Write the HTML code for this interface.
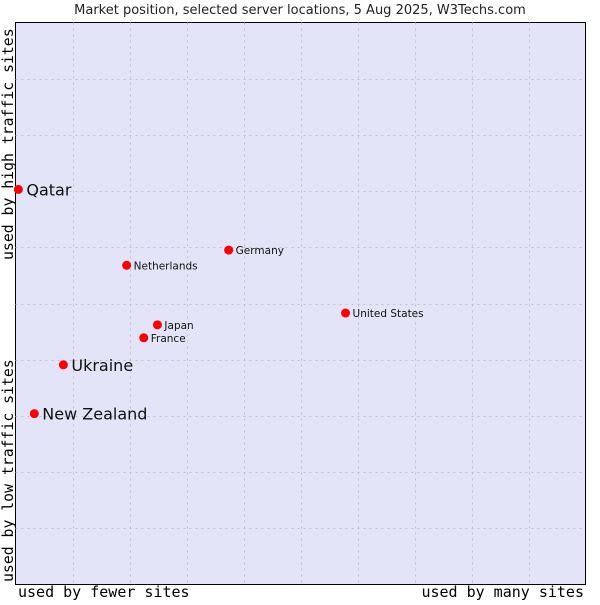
<!DOCTYPE html>
<html><head><meta charset="utf-8"><style>
body{margin:0;background:#fff;width:600px;height:600px;overflow:hidden}
svg text{font-family:"DejaVu Sans","Liberation Sans",sans-serif}
</style></head><body>
<svg id="chart" width="600" height="600">
<text x="300" y="14" text-anchor="middle" font-size="13" fill="#222">Market position, selected server locations, 5 Aug 2025, W3Techs.com</text>
<rect x="15.5" y="22.5" width="570" height="562" fill="#e4e4f8" stroke="#000"/>
<g id="grid"></g>
<g id="pts"></g>
<text x="18" y="597" font-size="15" style="font-family:'DejaVu Sans Mono','Liberation Mono',monospace">used by fewer sites</text>
<text x="584" y="597" text-anchor="end" font-size="15" style="font-family:'DejaVu Sans Mono','Liberation Mono',monospace">used by many sites</text>
<text transform="translate(13,582) rotate(-90)" font-size="14.8" style="font-family:'DejaVu Sans Mono','Liberation Mono',monospace">used by low traffic sites</text>
<text transform="translate(13,260) rotate(-90)" font-size="14.8" style="font-family:'DejaVu Sans Mono','Liberation Mono',monospace">used by high traffic sites</text>
</svg>
<script>
const names=["Qatar","Netherlands","Germany","United States","Japan","France","Ukraine","New Zealand"];
const xVals=[0.5,19.5,37.4,57.9,24.9,22.5,8.4,3.3];
const yVals=[70.3,56.8,59.5,48.3,46.2,43.9,39.1,30.4];
const big=[true,false,false,false,false,false,true,true];
const X0=15.5,X1=585.5,Y0=584.5,Y1=22.5;
const sx=v=>X0+v/100*(X1-X0), sy=v=>Y0-v/100*(Y0-Y1);
const NS="http://www.w3.org/2000/svg";
const g=document.getElementById('grid');
for(let i=1;i<10;i++){
 const a=document.createElementNS(NS,'line');
 const xx=Math.round(sx(i*10))+0.5;
 a.setAttribute('x1',xx);a.setAttribute('x2',xx);a.setAttribute('y1',Y1);a.setAttribute('y2',Y0);
 a.setAttribute('stroke','#c0c0c8');a.setAttribute('stroke-dasharray','2,4');
 
 
 g.appendChild(a);
 const b=document.createElementNS(NS,'line');
 const yy=Math.round(sy(i*10))+0.5;
 b.setAttribute('x1',X0);b.setAttribute('x2',X1);b.setAttribute('y1',yy);b.setAttribute('y2',yy);
 b.setAttribute('stroke','#c0c0c8');b.setAttribute('stroke-dasharray','2,4');
 
 
 g.appendChild(b);
}
const p=document.getElementById('pts');
names.forEach((n,i)=>{
 const cx=sx(xVals[i]),cy=sy(yVals[i]);
 const c=document.createElementNS(NS,'circle');
 c.setAttribute('cx',cx);c.setAttribute('cy',cy);c.setAttribute('r',4.5);c.setAttribute('fill','#f00');
 
 
 p.appendChild(c);
 const t=document.createElementNS(NS,'text');
 t.setAttribute('x',cx+(big[i]?8:7));t.setAttribute('y',cy+(big[i]?6:4));
 t.setAttribute('font-size',big[i]?16:10.5);t.setAttribute('fill','#111');
 t.textContent=n;
 
 
 p.appendChild(t);
});
</script>
</body></html>
